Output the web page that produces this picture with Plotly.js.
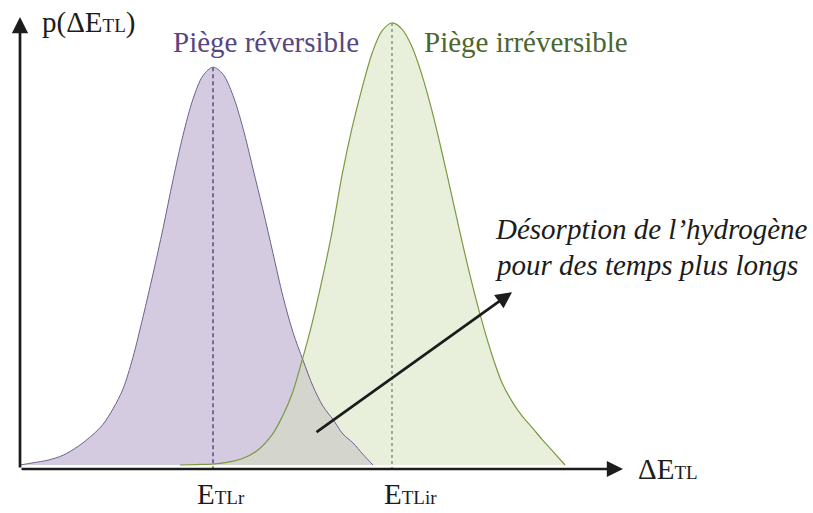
<!DOCTYPE html>
<html>
<head>
<meta charset="utf-8">
<script src="https://cdn.plot.ly/plotly-3.0.1.min.js"></script>
<style>
  html, body { margin: 0; padding: 0; background: #ffffff; }
  #chart { width: 813px; height: 513px; }
</style>
</head>
<body>
<div id="chart"></div>
<script>
// Energy distribution of the reversible trap: ΔE_TL (arbitrary units) and density
const dE_rev = [0.00, 0.13, 0.28, 0.43, 0.58, 0.73, 0.83, 0.93, 1.03, 1.13, 1.23, 1.33, 1.43, 1.53, 1.63, 1.73, 1.83, 1.93,
                2.03, 2.13, 2.23, 2.33, 2.43, 2.53, 2.63, 2.73, 2.83, 2.93, 3.03, 3.13, 3.23, 3.33, 3.43, 3.53];
const p_rev  = [0.000, 0.005, 0.011, 0.022, 0.042, 0.069, 0.092, 0.127, 0.172, 0.244, 0.335, 0.432, 0.535, 0.645, 0.746, 0.828, 0.881, 0.900,
                0.884, 0.836, 0.762, 0.670, 0.577, 0.479, 0.381, 0.300, 0.237, 0.178, 0.133, 0.103, 0.070, 0.050, 0.024, 0.000];

// Energy distribution of the irreversible trap
const dE_irr = [1.60, 1.76, 1.92, 2.07, 2.22, 2.37, 2.52, 2.62, 2.72, 2.82, 2.92, 3.02, 3.12, 3.22, 3.32, 3.42, 3.52, 3.62, 3.72,
                3.82, 3.92, 4.02, 4.12, 4.22, 4.32, 4.42, 4.52, 4.62, 4.72, 4.82, 4.92, 5.02, 5.12, 5.22, 5.32, 5.45];
const p_irr  = [0.000, 0.001, 0.002, 0.006, 0.014, 0.032, 0.068, 0.108, 0.160, 0.236, 0.320, 0.418, 0.527, 0.655, 0.762, 0.852, 0.931, 0.982, 1.000,
                0.986, 0.946, 0.882, 0.801, 0.707, 0.607, 0.506, 0.411, 0.325, 0.249, 0.186, 0.144, 0.111, 0.085, 0.058, 0.033, 0.000];

// Labels
const curveLabels = ['Piège réversible', 'Piège irréversible'];
const peakLabels = ['E<span style="font-size:19px">TLr</span>', 'E<span style="font-size:19px">TLir</span>'];
const yLabel = 'p(ΔE<span style="font-size:19px">TL</span>)';
const xLabel = 'ΔE<span style="font-size:19px">TL</span>';
const noteLines = ['Désorption de l’hydrogène', 'pour des temps plus longs'];

// Axis geometry in data units
const axisY = -0.009;
const axisXEnd = 6.03;
const axisYEnd = 1.0136;
const shiftTail = [2.95, 0.072];
const shiftHead = [4.92, 0.391];

// Colours
const C = {
  revFill: '#d4cbe1', revLine: '#6e6090', revText: '#58467f', revDash: '#3b2c66',
  irrFill: '#e8f0dc', irrLine: '#7a9a42', irrText: '#4c6630', irrDash: '#8e9a80',
  overlap: '#d4d5cc', ink: '#1c1c1c'
};

// Region under both curves: rising edge of the irreversible curve up to the
// crossing, then the falling edge of the reversible curve.
const xCross = 2.83;
const ovX = [], ovY = [];
dE_irr.forEach((x, i) => { if (x < xCross) { ovX.push(x); ovY.push(p_irr[i]); } });
dE_rev.forEach((x, i) => { if (x >= xCross) { ovX.push(x); ovY.push(p_rev[i]); } });

function peak(xs, ys) {
  let k = 0;
  ys.forEach((v, i) => { if (v > ys[k]) k = i; });
  return [xs[k], ys[k]];
}
const pkRev = peak(dE_rev, p_rev);
const pkIrr = peak(dE_irr, p_irr);

const spl = { shape: 'spline', smoothing: 0.9 };

const traces = [
  { x: dE_rev, y: p_rev, mode: 'lines', fill: 'tozeroy', fillcolor: C.revFill,
    line: Object.assign({ width: 0, color: C.revFill }, spl), hoverinfo: 'skip' },
  { x: dE_irr, y: p_irr, mode: 'lines', fill: 'tozeroy', fillcolor: C.irrFill,
    line: Object.assign({ width: 0, color: C.irrFill }, spl), hoverinfo: 'skip' },
  { x: ovX, y: ovY, mode: 'lines', fill: 'tozeroy', fillcolor: C.overlap,
    line: Object.assign({ width: 0, color: C.overlap }, spl), hoverinfo: 'skip' },
  { x: [pkRev[0], pkRev[0]], y: [pkRev[1], axisY], mode: 'lines',
    line: { color: C.revDash, width: 1.2, dash: '4px,3px' }, hoverinfo: 'skip' },
  { x: [pkIrr[0], pkIrr[0]], y: [pkIrr[1], axisY], mode: 'lines',
    line: { color: C.irrDash, width: 1.6, dash: '3px,3px' }, hoverinfo: 'skip' },
  { x: dE_rev, y: p_rev, mode: 'lines',
    line: Object.assign({ width: 1, color: C.revLine }, spl), hoverinfo: 'skip' },
  { x: dE_irr, y: p_irr, mode: 'lines',
    line: Object.assign({ width: 1.2, color: C.irrLine }, spl), hoverinfo: 'skip' }
];

const W = 813, H = 513;
const px = v => v / W;
const py = v => 1 - v / H;
const serif = 'Liberation Serif, Times New Roman, serif';

function label(text, x, y, color, anchor, italic) {
  return {
    xref: 'paper', yref: 'paper', x: px(x), y: py(y), text: text, showarrow: false,
    xanchor: anchor || 'center', yanchor: 'middle',
    font: { family: serif, size: 29, color: color, style: italic ? 'italic' : 'normal' }
  };
}

function arrow(tail, head) {
  return {
    xref: 'x', yref: 'y', axref: 'x', ayref: 'y',
    x: head[0], y: head[1], ax: tail[0], ay: tail[1], text: '',
    showarrow: true, arrowhead: 2, arrowsize: 1.2, arrowwidth: 2.7, arrowcolor: C.ink
  };
}

const annotations = [
  arrow([0, axisY], [axisXEnd, axisY]),
  arrow([0, axisY], [0, axisYEnd]),
  arrow(shiftTail, shiftHead),
  label(yLabel, 40, 22, '#1c1c1c', 'left'),
  label(curveLabels[0], 266, 42, C.revText),
  label(curveLabels[1], 526, 42, C.irrText),
  label(noteLines[0], 493, 229, '#1c1c1c', 'left', true),
  label(noteLines[1], 493, 265, '#1c1c1c', 'left', true),
  label(peakLabels[0], 195, 494, '#1c1c1c', 'left'),
  label(peakLabels[1], 382, 494, '#1c1c1c', 'left'),
  label(xLabel, 636, 469, '#1c1c1c', 'left')
];

const hidden = { visible: false, showgrid: false, zeroline: false, fixedrange: true };

const layout = {
  width: W, height: H,
  margin: { l: 0, r: 0, t: 0, b: 0, pad: 0 },
  paper_bgcolor: '#ffffff', plot_bgcolor: '#ffffff',
  showlegend: false,
  xaxis: Object.assign({ range: [-0.2, 7.93] }, hidden),
  yaxis: Object.assign({ range: [-0.1086, 1.0520] }, hidden),
  annotations: annotations
};

Plotly.newPlot('chart', traces, layout, { displayModeBar: false, staticPlot: true });
</script>
</body>
</html>
